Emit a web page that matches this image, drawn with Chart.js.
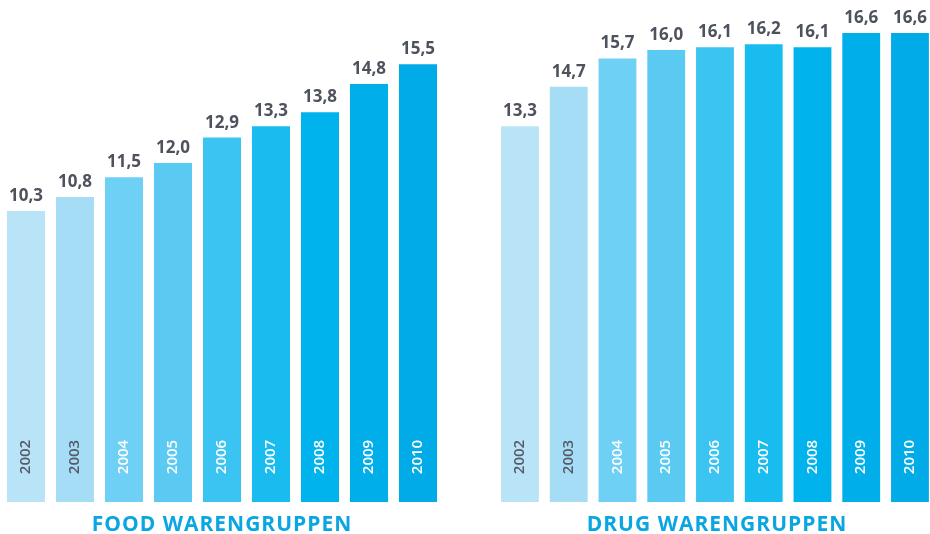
<!DOCTYPE html>
<html>
<head>
<meta charset="utf-8">
<script src="https://cdn.jsdelivr.net/npm/chart.js@4/dist/chart.umd.min.js"></script>
<style>
  html, body { margin: 0; padding: 0; background: #fff; overflow: hidden; width: 930px; height: 534px; }
  canvas { position: absolute; top: 0; }
  #foodChart { left: 0; }
  #drugChart { left: 490px; }
</style>
</head>
<body>
<canvas id="foodChart" width="445" height="534"></canvas>
<canvas id="drugChart" width="450" height="534"></canvas>
<script>
/* =========================
   DATA
========================= */
const years = ["2002", "2003", "2004", "2005", "2006", "2007", "2008", "2009", "2010"];
const foodValues = [10.3, 10.8, 11.5, 12.0, 12.9, 13.3, 13.8, 14.8, 15.5];
const drugValues = [13.3, 14.7, 15.7, 16.0, 16.1, 16.2, 16.1, 16.6, 16.6];
const foodTitle = "FOOD WARENGRUPPEN";
const drugTitle = "DRUG WARENGRUPPEN";

/* =========================
   STYLE
========================= */
const barColors = ["#b9e4f8", "#a5ddf6", "#6fd0f5", "#5acaf3", "#3bc4f1", "#19bcef", "#00b3ec", "#00aee9", "#00abe8"];
const yearColors = ["#555a66", "#555a66", "#fff", "#fff", "#fff", "#fff", "#fff", "#fff", "#fff"];
const labelGray = "#4d525d";
const titleBlue = "#0aa6e1";
const FONT = "'Open Sans', 'Noto Sans', sans-serif";

/* =========================
   LABEL PLUGIN
========================= */
const labelPlugin = {
    id: "labels",
    afterDatasetsDraw(chart, args, opts){
        const ctx = chart.ctx;
        const meta = chart.getDatasetMeta(0);
        const values = chart.data.datasets[0].data;

        ctx.save();
        meta.data.forEach((bar, i) => {
            // value above bar
            ctx.fillStyle = labelGray;
            ctx.font = "bold 17px " + FONT;
            ctx.textAlign = "center";
            ctx.textBaseline = "alphabetic";
            ctx.fillText(values[i].toFixed(1).replace(".", ","), bar.x, bar.y - 10);

            // year inside bar, rotated
            ctx.save();
            ctx.translate(bar.x, 457);
            ctx.rotate(-Math.PI / 2);
            ctx.fillStyle = yearColors[i];
            ctx.font = "600 15px " + FONT;
            ctx.textBaseline = "middle";
            ctx.fillText(chart.data.labels[i], 0, 0);
            ctx.restore();
        });

        // group title
        const area = chart.chartArea;
        ctx.fillStyle = titleBlue;
        ctx.font = "bold 21px " + FONT;
        ctx.letterSpacing = "1px";
        ctx.textAlign = "center";
        ctx.textBaseline = "middle";
        ctx.fillText(opts.text, (area.left + area.right) / 2 + opts.shift, 525);
        ctx.restore();
    }
};

/* =========================
   CHART BUILDER
========================= */
function makeChart(id, values, title, padLeft, padRight, shift){
    return new Chart(document.getElementById(id), {
        type: "bar",
        data: {
            labels: years,
            datasets: [{
                data: values,
                backgroundColor: barColors,
                borderWidth: 0,
                barPercentage: 0.776,
                categoryPercentage: 1
            }]
        },
        options: {
            responsive: false,
            animation: false,
            devicePixelRatio: 1,
            layout: { padding: { left: padLeft, right: padRight, top: 0, bottom: 32 } },
            scales: {
                x: { display: false },
                y: { display: false, min: 0, max: 17.77 }
            },
            plugins: {
                legend: { display: false },
                tooltip: { enabled: false },
                labels: { text: title, shift: shift }
            }
        },
        plugins: [labelPlugin]
    });
}

makeChart("foodChart", foodValues, foodTitle, 1.5, 2.5, 0);
makeChart("drugChart", drugValues, drugTitle, 5.6, 5.65, 2);
</script>
</body>
</html>
